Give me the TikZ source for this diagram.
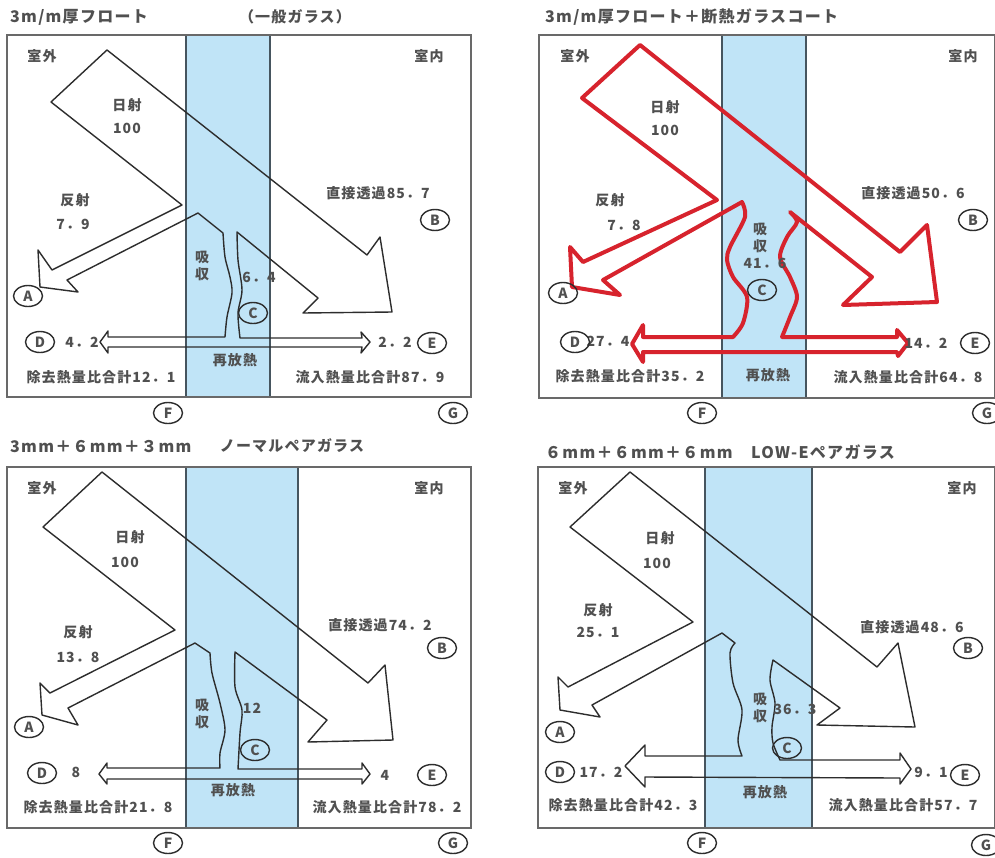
\documentclass[tikz,border=0pt]{standalone}
\usepackage{fontspec}
\usetikzlibrary{shapes.geometric}
\newfontfamily\jp[LetterSpace=8]{Noto Sans CJK JP}
\definecolor{glassblue}{RGB}{192,228,247}
\definecolor{glassedge}{RGB}{70,85,95}
\definecolor{framegray}{RGB}{105,105,105}
\definecolor{flowline}{RGB}{45,45,45}
\definecolor{coatred}{RGB}{215,35,45}
\definecolor{txtgray}{RGB}{80,80,80}
\tikzset{
  glass/.style={fill=glassblue, draw=glassedge, line width=1.2pt},
  frame/.style={draw=framegray, line width=2pt},
  flow/.style={draw=flowline, line width=1.4pt, line join=round},
  redflow/.style={draw=coatred, line width=4pt, line join=round},
  lbl/.style={text=txtgray, inner sep=0pt, font=\jp\bfseries\fontsize{14}{17}\selectfont},
  ttl/.style={text=txtgray, inner sep=0pt, anchor=west, font=\jp\bfseries\fontsize{16}{18}\selectfont},
  tag/.style={ellipse, draw=flowline, line width=1.4pt, minimum width=29pt,
    minimum height=21pt, inner sep=0pt, text=txtgray, font=\jp\bfseries\fontsize{14}{15}\selectfont}
}
\begin{document}
\begin{tikzpicture}[x=1pt,y=-1pt]
  \useasboundingbox (0,0) rectangle (995,857);
  \fill[white] (0,0) rectangle (995,857);

  % 3m/m float
  \draw[glass] (186,35) rectangle (270,397);
  \draw[frame] (7,35) rectangle (471,397);
  \draw[flow] (107,50) -- (367,255) -- (380,237) -- (392,312) -- (303,313) -- (318,298) -- (237,232)
    -- plot[smooth] coordinates {(237,232) (238,260) (242,290) (238,313) (240,338)}
    -- (362,338) -- (361,332) -- (370,342) -- (361,353) -- (362,347)
    -- (108,347) -- (108,353) -- (100,342) -- (108,331) -- (108,337)
    -- plot[smooth] coordinates {(225,337) (227,317) (232,293) (230,277) (225,257) (223,233)}
    -- (198,213) -- (67,280) -- (78,292) -- (40,287) -- (38,250) -- (52,270) -- (182,205)
    -- (51,102) -- cycle;
  \node[ttl] (name1) at (10,17) {3m/m厚フロート};
  \node[lbl, font=\jp\bfseries\fontsize{15}{17}\selectfont] (kind1) at (295,17) {（一般ガラス）};
  \node[lbl] (out1) at (42,56) {室外};
  \node[lbl] (in1) at (429,56) {室内};
  \node[lbl] (sun1) at (127,105) {日射};
  \node[lbl] (sunv1) at (127,128) {100};
  \node[lbl] (refl1) at (75,200) {反射};
  \node[lbl] (reflv1) at (73,224) {7．9};
  \node[lbl] (dir1) at (378,193) {直接透過85．7};
  \node[lbl, align=center] (abs1) at (202,266) {吸\\収};
  \node[lbl] (absv1) at (259,277) {6．4};
  \node[lbl] (dval1) at (82,342) {4．2};
  \node[lbl] (eval1) at (395,342) {2．2};
  \node[lbl] (rerad1) at (235,360) {再放熱};
  \node[lbl] (rem1) at (101,377) {除去熱量比合計12．1};
  \node[lbl] (inf1) at (370,377) {流入熱量比合計87．9};
  \node[tag] (A1) at (28,296) {A};
  \node[tag] (B1) at (435,220) {B};
  \node[tag] (C1) at (253,313) {C};
  \node[tag] (D1) at (40,342) {D};
  \node[tag] (E1) at (432,343) {E};
  \node[tag] (F1) at (168,413) {F};
  \node[tag] (G1) at (453,413) {G};

  % coated float
  \draw[glass] (722,35) rectangle (806,398);
  \draw[frame] (539,35) rectangle (995,398);
  \draw[redflow] (640,45) -- (900,252) -- (927,225) -- (937,302) -- (843,305) -- (872,277) -- (790,212)
    -- plot[smooth] coordinates {(790,212) (797,222) (787,237) (780,257) (790,277) (797,297) (790,317) (782,337)}
    -- (897,337) -- (897,330) -- (908,343) -- (898,356) -- (897,352)
    -- (643,352) -- (643,362) -- (632,344) -- (643,325) -- (643,337)
    -- plot[smooth] coordinates {(733,337) (743,323) (747,297) (733,277) (727,260) (730,247) (745,217) (742,202)}
    -- (603,280) -- (620,295) -- (572,287) -- (570,247) -- (583,262) -- (717,200)
    -- (582,98) -- cycle;
  \node[ttl] (name2) at (545,17) {3m/m厚フロート＋断熱ガラスコート};
  \node[lbl] (out2) at (575,56) {室外};
  \node[lbl] (in2) at (963,56) {室内};
  \node[lbl] (sun2) at (665,107) {日射};
  \node[lbl] (sunv2) at (665,130) {100};
  \node[lbl] (refl2) at (610,200) {反射};
  \node[lbl] (reflv2) at (624,225) {7．8};
  \node[lbl] (dir2) at (913,193) {直接透過50．6};
  \node[lbl, align=center] (abs2) at (760,238) {吸\\収};
  \node[lbl] (absv2) at (765,263) {41．6};
  \node[lbl] (dval2) at (608,341) {27．4};
  \node[lbl] (eval2) at (926,343) {14．2};
  \node[lbl] (rerad2) at (768,375) {再放熱};
  \node[lbl] (rem2) at (630,376) {除去熱量比合計35．2};
  \node[lbl] (inf2) at (908,377) {流入熱量比合計64．8};
  \node[tag] (A2) at (563,293) {A};
  \node[tag] (B2) at (973,220) {B};
  \node[tag] (C2) at (762,290) {C};
  \node[tag] (D2) at (575,342) {D};
  \node[tag] (E2) at (975,343) {E};
  \node[tag] (F2) at (702,413) {F};
  \node[tag] (G2) at (987,413) {G};

  % normal pair glass
  \draw[glass] (186,467) rectangle (298,828);
  \draw[frame] (7,467) rectangle (471,828);
  \draw[flow] (102,472) -- (368,683) -- (385,665) -- (393,740) -- (308,742) -- (327,720) -- (235,652)
    -- plot[smooth] coordinates {(235,652) (235,687) (242,710) (240,733) (238,769)}
    -- (362,769) -- (362,763) -- (370,774) -- (362,784) -- (362,779)
    -- (107,779) -- (107,784) -- (99,774) -- (107,763) -- (107,768)
    -- plot[smooth] coordinates {(220,768) (220,753) (225,730) (220,703) (212,673) (210,653)}
    -- (195,643) -- (68,708) -- (78,725) -- (42,715) -- (40,683) -- (50,693) -- (175,630)
    -- (43,527) -- cycle;
  \node[ttl] (name3) at (10,447) {3mm＋６mm＋３mm};
  \node[lbl, font=\jp\bfseries\fontsize{15}{17}\selectfont] (kind3) at (292,446) {ノーマルペアガラス};
  \node[lbl] (out3) at (42,488) {室外};
  \node[lbl] (in3) at (429,488) {室内};
  \node[lbl] (sun3) at (130,537) {日射};
  \node[lbl] (sunv3) at (125,562) {100};
  \node[lbl] (refl3) at (78,632) {反射};
  \node[lbl] (reflv3) at (78,657) {13．8};
  \node[lbl] (dir3) at (380,625) {直接透過74．2};
  \node[lbl, align=center] (abs3) at (202,714) {吸\\収};
  \node[lbl] (absv3) at (252,708) {12};
  \node[lbl] (dval3) at (76,772) {8};
  \node[lbl] (eval3) at (385,775) {4};
  \node[lbl] (rerad3) at (233,790) {再放熱};
  \node[lbl] (rem3) at (98,807) {除去熱量比合計21．8};
  \node[lbl] (inf3) at (387,807) {流入熱量比合計78．2};
  \node[tag] (A3) at (29,727) {A};
  \node[tag] (B3) at (442,648) {B};
  \node[tag] (C3) at (255,750) {C};
  \node[tag] (D3) at (42,773) {D};
  \node[tag] (E3) at (432,775) {E};
  \node[tag] (F3) at (168,843) {F};
  \node[tag] (G3) at (453,843) {G};

  % Low-E pair glass
  \draw[glass] (705,467) rectangle (812,828);
  \draw[frame] (538,467) rectangle (995,828);
  \draw[flow] (630,472) -- (877,667) -- (898,643) -- (915,727) -- (817,725) -- (840,708) -- (773,660)
    -- plot[smooth] coordinates {(773,660) (770,680) (775,703) (772,727) (773,743) (780,760)}
    -- (900,760) -- (900,753) -- (911,769) -- (900,784) -- (900,778)
    -- (645,777) -- (645,787) -- (625,766) -- (645,745) -- (645,756)
    -- plot[smooth] coordinates {(742,756) (738,740) (742,710) (733,683) (730,653) (735,643)}
    -- (722,633) -- (592,705) -- (600,717) -- (560,710) -- (558,677) -- (568,687) -- (693,622)
    -- (570,527) -- cycle;
  \node[ttl] (name4) at (545,452) {６mm＋６mm＋６mm　LOW-Eペアガラス};
  \node[lbl] (out4) at (573,488) {室外};
  \node[lbl] (in4) at (962,488) {室内};
  \node[lbl] (sun4) at (660,538) {日射};
  \node[lbl] (sunv4) at (657,563) {100};
  \node[lbl] (refl4) at (598,610) {反射};
  \node[lbl] (reflv4) at (598,632) {25．1};
  \node[lbl] (dir4) at (912,627) {直接透過48．6};
  \node[lbl, align=center] (abs4) at (760,708) {吸\\収};
  \node[lbl] (absv4) at (795,709) {36．3};
  \node[lbl] (dval4) at (601,772) {17．2};
  \node[lbl] (eval4) at (931,772) {9．1};
  \node[lbl] (rerad4) at (765,792) {再放熱};
  \node[lbl] (rem4) at (623,805) {除去熱量比合計42．3};
  \node[lbl] (inf4) at (903,805) {流入熱量比合計57．7};
  \node[tag] (A4) at (560,732) {A};
  \node[tag] (B4) at (968,648) {B};
  \node[tag] (C4) at (787,748) {C};
  \node[tag] (D4) at (560,772) {D};
  \node[tag] (E4) at (965,775) {E};
  \node[tag] (F4) at (702,843) {F};
  \node[tag] (G4) at (986,845) {G};
\end{tikzpicture}
\end{document}
